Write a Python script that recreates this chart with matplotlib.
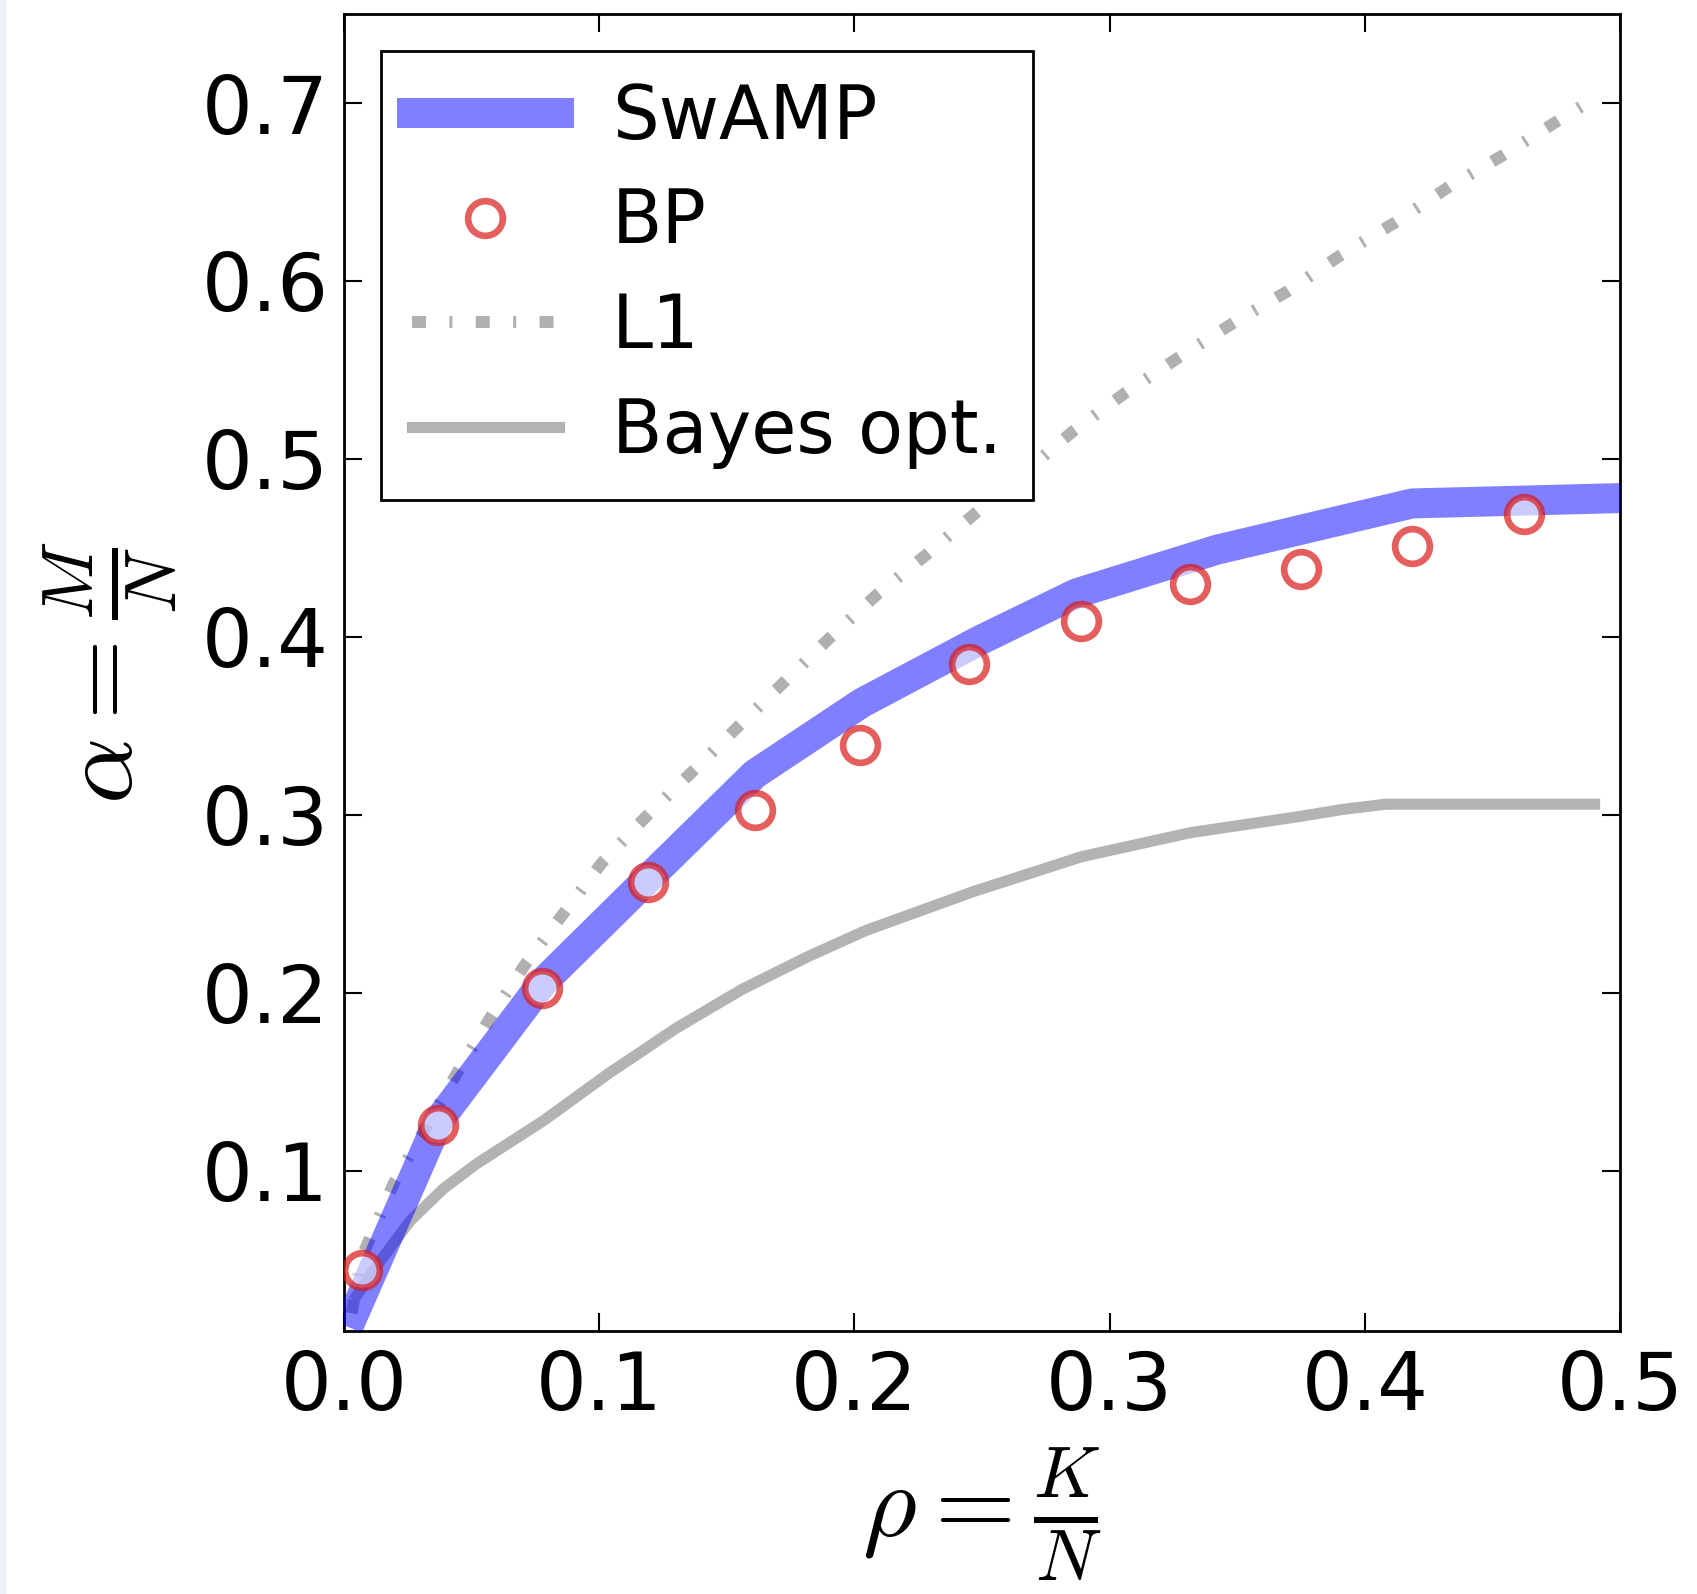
import matplotlib
matplotlib.use('Agg')
import matplotlib.pyplot as plt
from matplotlib.patches import Rectangle

# values
swamp_rho = [0.004, 0.037, 0.078, 0.119, 0.161, 0.203, 0.249, 0.287, 0.342, 0.4185, 0.5]
swamp_alpha = [0.020, 0.128, 0.206, 0.264, 0.323, 0.363, 0.398, 0.4245, 0.449, 0.475, 0.478]

bp_rho = [0.0072, 0.0369, 0.0776, 0.1192, 0.1612, 0.2023, 0.2447, 0.2888, 0.3316, 0.3749, 0.4186, 0.4623]
bp_alpha = [0.044, 0.126, 0.203, 0.2625, 0.303, 0.339, 0.385, 0.409, 0.430, 0.438, 0.451, 0.469]

l1_rho = [0.003, 0.0065, 0.0195, 0.0443, 0.0573, 0.071, 0.086, 0.101, 0.118, 0.136, 0.154,
          0.172, 0.190, 0.209, 0.228, 0.247, 0.267, 0.286, 0.306, 0.327, 0.348, 0.370,
          0.390, 0.412, 0.433, 0.4545, 0.4756, 0.487]
l1_alpha = [0.020, 0.050, 0.093, 0.155, 0.186, 0.216, 0.2446, 0.273, 0.2985, 0.3236, 0.349,
            0.374, 0.399, 0.424, 0.446, 0.469, 0.493, 0.516, 0.537, 0.557, 0.576, 0.5945,
            0.614, 0.633, 0.653, 0.671, 0.690, 0.700]

bayes_rho = [0.005, 0.013, 0.026, 0.039, 0.052, 0.065, 0.078, 0.104, 0.130, 0.156, 0.182,
             0.2044, 0.2468, 0.289, 0.3316, 0.374, 0.391, 0.408, 0.490]
bayes_alpha = [0.030, 0.047, 0.072, 0.090, 0.104, 0.116, 0.128, 0.155, 0.180, 0.202, 0.2205,
               0.235, 0.257, 0.2765, 0.290, 0.299, 0.303, 0.306, 0.306]

xticks = [0.0, 0.1, 0.2, 0.3, 0.4, 0.5]
yticks = [0.1, 0.2, 0.3, 0.4, 0.5, 0.6, 0.7]

plt.rcParams['mathtext.fontset'] = 'cm'

fig = plt.figure(figsize=(16.97, 15.94), dpi=100)
ax = fig.add_axes([0.2027, 0.165, 0.752, 0.8262])

# pale strip on the left edge of the picture
fig.patches.append(Rectangle((0, 0), 0.003, 1, transform=fig.transFigure,
                             color='#edf2f4', zorder=-1))

l1_line, = ax.plot(l1_rho, l1_alpha, color='#b0b0b0', lw=8.6,
                   dashes=(1.17, 1.96, 0.25, 1.96), label='L1', zorder=1)
bayes_line, = ax.plot(bayes_rho, bayes_alpha, color='#b3b3b3', lw=8.0,
                      label='Bayes opt.', zorder=2)
swamp_line, = ax.plot(swamp_rho, swamp_alpha, color='blue', alpha=0.5, lw=21.6,
                      label='SwAMP', zorder=3)
bp_line, = ax.plot(bp_rho, bp_alpha, 'o', ms=25, mew=4.8,
                   mfc=(1, 1, 1, 0.6), mec=(0.85, 0.1, 0.1, 0.7),
                   label='BP', zorder=4)

ax.set_xlim(0, 0.5)
ax.set_ylim(0.01, 0.75)
ax.set_xticks(xticks)
ax.set_yticks(yticks)
ax.set_xticklabels(['%.1f' % v for v in xticks])
ax.set_yticklabels(['%.1f' % v for v in yticks])
ax.tick_params(direction='in', top=True, right=True, length=13, width=1.5,
               labelsize=57.5)
ax.tick_params(axis='x', pad=13)
ax.tick_params(axis='y', pad=11)
for s in ax.spines.values():
    s.set_linewidth(2)

ax.set_xlabel(r'$\rho=\frac{K}{N}$', fontsize=75, labelpad=14)
ax.set_ylabel(r'$\alpha=\frac{M}{N}$', fontsize=75, labelpad=16)

leg = ax.legend(handles=[swamp_line, bp_line, l1_line, bayes_line], loc='upper left',
                numpoints=1, fontsize=53, fancybox=False, framealpha=1,
                edgecolor='black', borderpad=0.42, labelspacing=0.43,
                handlelength=2.0, handletextpad=0.72, borderaxespad=0.5)
leg.get_frame().set_linewidth(2)

fig.savefig('out.png', dpi=100)
